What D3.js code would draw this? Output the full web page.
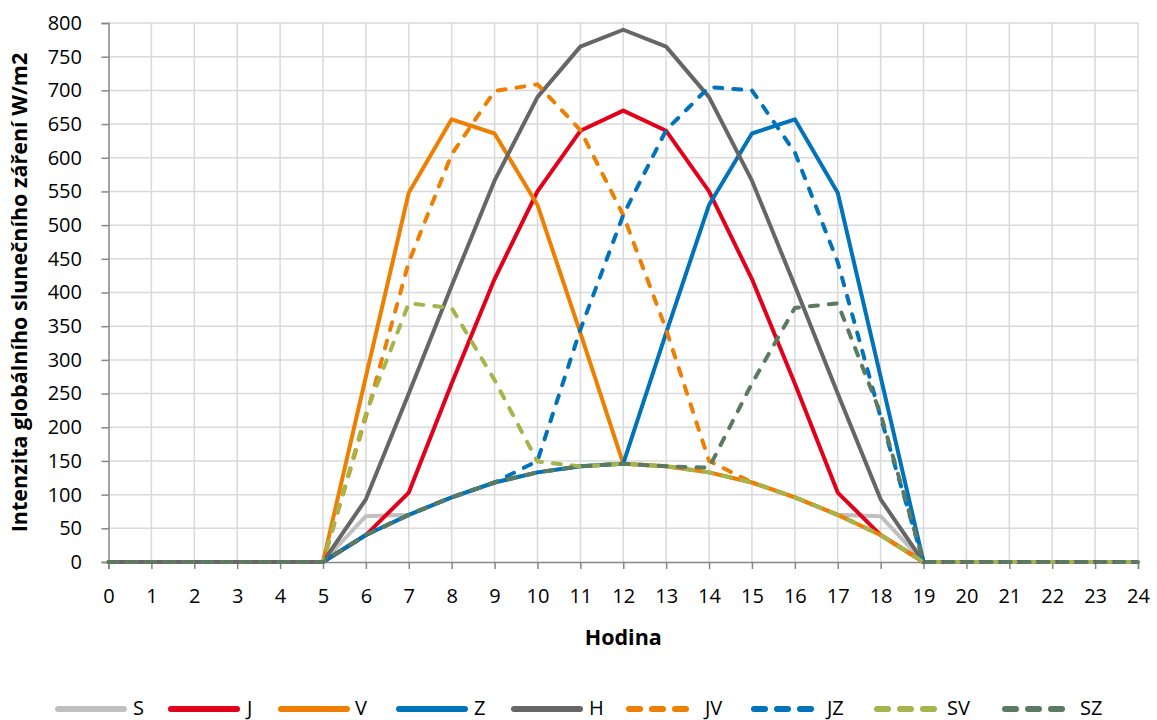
<!DOCTYPE html>
<html>
<head>
<meta charset="utf-8">
<script src="https://cdn.jsdelivr.net/npm/d3@7"></script>
<style>
  html, body { margin: 0; padding: 0; background: #fff; }
  svg { display: block; font-family: "Open Sans", sans-serif; }
</style>
</head>
<body>
<svg id="chart" width="1157" height="720"></svg>
<script>
// Hodiny dne
const hours = d3.range(0, 25);

// Intenzita globálního slunečního záření [W/m2] pro jednotlivé orientace
const S  = [0,0,0,0,0,0, 68, 70, 96,118,133,142,146,142,133,118, 96, 70, 68,0,0,0,0,0,0];
const J  = [0,0,0,0,0,0, 40,103,265,420,550,640,670,640,550,420,265,103, 40,0,0,0,0,0,0];
const V  = [0,0,0,0,0,0,275,548,657,636,530,340,146,142,133,118, 96, 70, 40,0,0,0,0,0,0];
const Z  = [0,0,0,0,0,0, 40, 70, 96,118,133,142,146,340,530,636,657,548,275,0,0,0,0,0,0];
const H  = [0,0,0,0,0,0, 93,250,410,566,690,765,790,765,690,566,410,250, 93,0,0,0,0,0,0];
const JV = [0,0,0,0,0,0,215,445,605,699,709,641,515,345,150,118, 96, 70, 40,0,0,0,0,0,0];
const JZ = [0,0,0,0,0,0, 40, 70, 96,118,150,345,515,641,705,700,608,445,215,0,0,0,0,0,0];
const SV = [0,0,0,0,0,0,220,384,377,270,149,142,146,142,133,118, 96, 70, 40,0,0,0,0,0,0];
const SZ = [0,0,0,0,0,0, 40, 70, 96,118,133,142,146,142,140,265,377,384,220,0,0,0,0,0,0];

const seriesNames = ["S","J","V","Z","H","JV","JZ","SV","SZ"];
const seriesValues = [S, J, V, Z, H, JV, JZ, SV, SZ];
const seriesColors = ["#c0c0c0","#e2001a","#ee7f00","#0073bb","#666666","#ee7f00","#0073bb","#a6b44c","#5a7b61"];
const seriesDashed = [false,false,false,false,false,true,true,true,true];

const yTicks = d3.range(0, 801, 50);
const xTicks = hours;

const svg = d3.select("#chart");
const margin = { left: 108.5, right: 19, top: 23, bottom: 158 };
const W = 1157, Hh = 720;

const x = d3.scaleLinear().domain([0, 24]).range([margin.left, W - margin.right]);
const y = d3.scaleLinear().domain([0, 800]).range([Hh - margin.bottom, margin.top]);

// mřížka
svg.append("g").selectAll("line").data(yTicks.filter(d => d > 0)).join("line")
  .attr("x1", x(0)).attr("x2", x(24))
  .attr("y1", d => y(d)).attr("y2", d => y(d))
  .attr("stroke", "#d9d9d9").attr("stroke-width", 1.5);
svg.append("g").selectAll("line").data(xTicks.filter(d => d > 0)).join("line")
  .attr("x1", d => x(d)).attr("x2", d => x(d))
  .attr("y1", y(0)).attr("y2", y(800))
  .attr("stroke", "#d9d9d9").attr("stroke-width", 1.5);

// osy
const yAxis = svg.append("g")
  .attr("transform", `translate(${x(0)},0)`)
  .call(d3.axisLeft(y).tickValues(yTicks).tickSize(7).tickPadding(19.5));
const xAxis = svg.append("g")
  .attr("transform", `translate(0,${y(0)})`)
  .call(d3.axisBottom(x).tickValues(xTicks).tickSize(7).tickPadding(19.5));
[yAxis, xAxis].forEach(g => {
  g.select(".domain").attr("stroke", "#868686").attr("stroke-width", 1.5);
  g.selectAll(".tick line").attr("stroke", "#868686").attr("stroke-width", 1.5);
  g.selectAll(".tick text").attr("fill", "#000").attr("font-size", 20)
    .attr("font-family", "'Open Sans', sans-serif");
});

// řady
const line = d3.line().x((d, i) => x(hours[i])).y(d => y(d));
seriesValues.forEach((vals, k) => {
  svg.append("path")
    .datum(vals)
    .attr("d", line)
    .attr("fill", "none")
    .attr("stroke", seriesColors[k])
    .attr("stroke-width", 4)
    .attr("stroke-linejoin", "round")
    .attr("stroke-linecap", seriesDashed[k] ? "round" : "butt")
    .attr("stroke-dasharray", seriesDashed[k] ? "8,11" : null);
});

// popisky os
svg.append("text")
  .attr("transform", `translate(26.5,${(y(0) + y(800)) / 2}) rotate(-90)`)
  .attr("text-anchor", "middle")
  .attr("font-weight", "bold").attr("font-size", 21.5)
  .text("Intenzita globálního slunečního záření W/m2");
svg.append("text")
  .attr("x", (x(0) + x(24)) / 2).attr("y", 645)
  .attr("text-anchor", "middle")
  .attr("font-weight", "bold").attr("font-size", 21.5)
  .text("Hodina");

// legenda: začátek čáry a poloha textu
const legendLineX = [55, 168, 278, 396, 511, 626, 751, 874, 1002];
const legendTextX = [133, 247, 355, 474, 589, 705, 827, 947, 1080];
const legend = svg.append("g");
seriesNames.forEach((name, k) => {
  const lx = legendLineX[k], ly = 709;
  const len = seriesDashed[k] ? 63 : 72;
  legend.append("line")
    .attr("x1", lx + 3).attr("x2", lx + len - 3)
    .attr("y1", ly).attr("y2", ly)
    .attr("stroke", seriesColors[k])
    .attr("stroke-width", 6)
    .attr("stroke-linecap", "round")
    .attr("stroke-dasharray", seriesDashed[k] ? "11,12" : null);
  legend.append("text")
    .attr("x", legendTextX[k]).attr("y", 715)
    .attr("font-size", 20)
    .text(name);
});
</script>
</body>
</html>
